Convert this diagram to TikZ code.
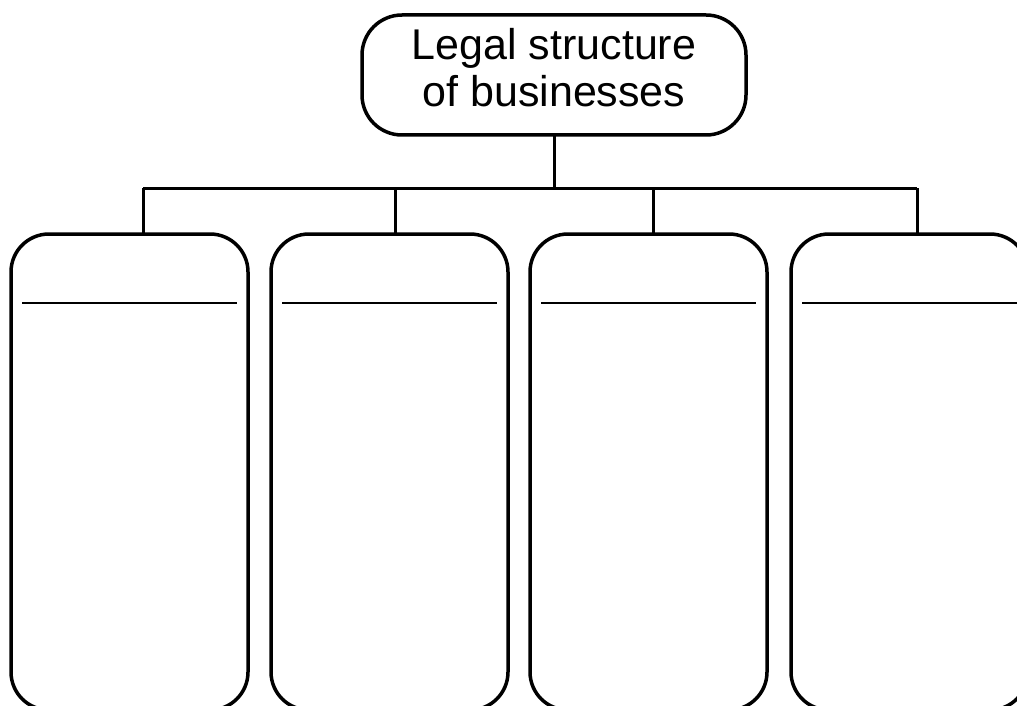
\documentclass[tikz,border=0pt]{standalone}
\usepackage{fontspec}
\setmainfont{Liberation Sans}
\usetikzlibrary{calc}

\tikzset{
    topbox/.style={draw, line width=3.5pt, rounded corners=40pt, outer sep=0pt,
        minimum width=384pt, minimum height=120pt, align=center,
        text depth=16pt, font=\fontsize{43}{47}\selectfont},
    card/.style={draw, line width=3.5pt, rounded corners=38pt, outer sep=0pt,
        minimum width=237pt, minimum height=476pt},
    link/.style={line width=3pt},
    rule/.style={line width=2pt}
}

\begin{document}
\begin{tikzpicture}[x=1pt, y=-1pt]
    \useasboundingbox (0, 0) rectangle (1017, 706);

    % Root
    \node [topbox] (top) at (554, 75) {Legal structure\\of businesses};

    % Four empty cards
    \foreach \x [count=\i] in {11, 271, 530, 791}
        \node [card] (b\i) at (\x+118.5, 472) {};

    % Title rules inside the cards
    \foreach \i in {1,...,4}
        \draw [rule] ($(b\i.north west)+(11,69)$) -- ($(b\i.north east)+(-11,69)$);

    % Tree connectors
    \coordinate (bar) at (top.south |- 0,188);
    \draw [link] (top.south) -- (bar);
    \foreach \d [count=\i] in {143, 395, 653, 917}
        \coordinate (j\i) at (\d, 188);
    \draw [link] (j1) -- (j4);
    \foreach \i in {1,...,4}
        \draw [link] (j\i) -- (j\i |- b\i.north);
\end{tikzpicture}
\end{document}
